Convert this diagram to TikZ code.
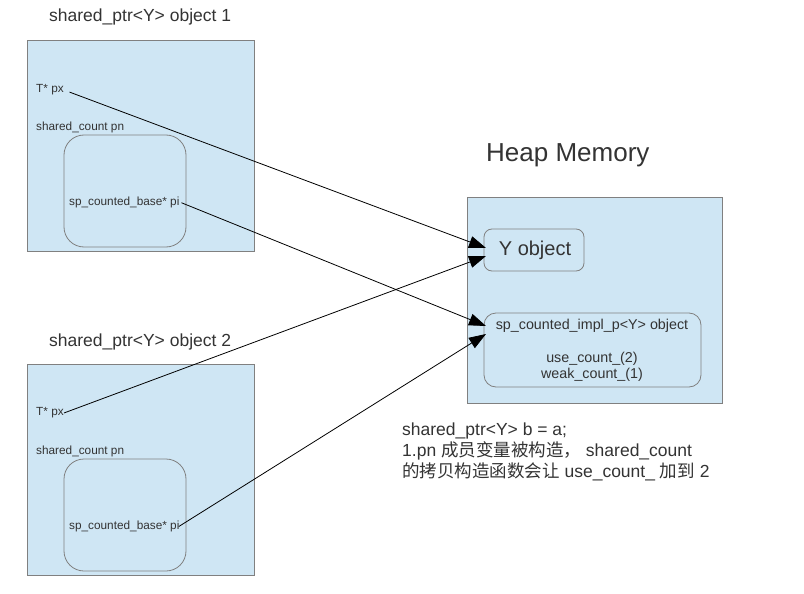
\documentclass[tikz,border=0pt]{standalone}
\usepackage{fontspec}
\setmainfont{Liberation Sans}
\newfontfamily\cjk{Noto Sans CJK SC}
\usetikzlibrary{arrows.meta}
\definecolor{boxblue}{HTML}{CFE6F4}
\definecolor{boxgray}{HTML}{808080}
\definecolor{txtgray}{HTML}{333333}
\tikzset{
  membox/.style={draw=boxgray, fill=boxblue, line width=0.8pt},
  cntbox/.style={draw=boxgray, line width=0.8pt, rounded corners=20pt},
  small/.style={font=\fontsize{11.8}{14}\selectfont, text=txtgray, inner sep=0pt, anchor=west},
  title/.style={font=\fontsize{17.5}{20}\selectfont, text=txtgray, inner sep=0pt, anchor=west},
  ptr/.style={line width=0.8pt, -{Triangle[length=17pt,width=12pt]}},
}
\begin{document}
\begin{tikzpicture}[x=1pt,y=-1pt]
  \useasboundingbox (0,0) rectangle (804,594);

  % shared_ptr object 1
  \node[title] (t1) at (49,17) {shared\_ptr<Y> object 1};
  \draw[membox] (27,40) rectangle (254,251);
  \draw[cntbox] (64,135) rectangle (186,247);
  \node[small] (px1) at (36,90) {T* px};
  \node[small] (pn1) at (36,127) {shared\_count pn};
  \node[small] (pi1) at (69,202) {sp\_counted\_base* pi};

  % shared_ptr object 2
  \node[title] (t2) at (49,342) {shared\_ptr<Y> object 2};
  \draw[membox] (27,364) rectangle (254,575);
  \draw[cntbox] (64,459) rectangle (186,571);
  \node[small] (px2) at (36,413) {T* px};
  \node[small] (pn2) at (36,451) {shared\_count pn};
  \node[small] (pi2) at (69,526) {sp\_counted\_base* pi};

  % heap
  \node[font=\fontsize{26}{30}\selectfont, text=txtgray, inner sep=0pt, anchor=west] (heap) at (486,155) {Heap Memory};
  \draw[membox] (467,197) rectangle (722,403);
  \draw[cntbox, rounded corners=8pt] (484,229) rectangle (584,271);
  \node[font=\fontsize{20}{24}\selectfont, text=txtgray, inner sep=0pt] (yobj) at (535,250) {Y object};
  \draw[cntbox, rounded corners=12pt] (484,313) rectangle (701,387);
  \node[font=\fontsize{14.3}{16}\selectfont, text=txtgray, inner sep=0pt] (impl) at (592,326) {sp\_counted\_impl\_p<Y> object};
  \node[font=\fontsize{14.3}{16}\selectfont, text=txtgray, inner sep=0pt, align=center] (cnt) at (592,367) {use\_count\_(2)\\weak\_count\_(1)};

  \coordinate (yin1) at (486,248);
  \coordinate (yin2) at (486,256);
  \coordinate (cin1) at (486,326);
  \coordinate (cin2) at (486,334);

  \draw[ptr, shorten <=6pt] (px1.east) -- (yin1);
  \draw[ptr] (px2.east) -- (yin2);
  \draw[ptr, shorten <=2pt] (pi1.east) -- (cin1);
  \draw[ptr, shorten <=-1pt] (pi2.east) -- (cin2);

  % note
  \node[font=\fontsize{17.5}{21}\selectfont, text=txtgray, inner sep=0pt, anchor=north west, align=left] (note) at (402,423)
    {shared\_ptr<Y> b = a;\\
     1.pn {\cjk 成员变量被构造，} shared\_count\\
     {\cjk 的拷贝构造函数会让} use\_count\_ {\cjk 加到} 2};
\end{tikzpicture}
\end{document}
